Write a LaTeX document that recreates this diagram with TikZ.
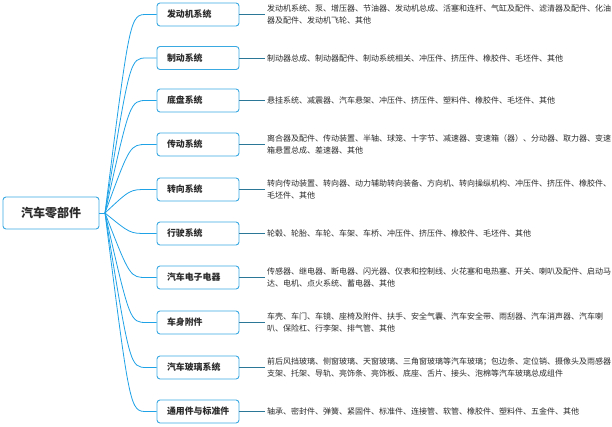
\documentclass[tikz,border=0pt]{standalone}
\usepackage{fontspec}
\setmainfont{Noto Sans CJK SC}
\definecolor{branch}{HTML}{1FA2E6}
\definecolor{boxline}{HTML}{3AA9E2}
\definecolor{leafline}{HTML}{2A7798}
\definecolor{txt}{HTML}{2B2B2B}
\tikzset{
  rootbox/.style={draw=boxline, line width=0.9pt, rounded corners=3pt, fill=white,
    minimum width=96pt, minimum height=32pt, inner sep=0pt,
    font=\fontsize{12}{14}\selectfont\bfseries, text=txt},
  catbox/.style={draw=boxline, line width=0.9pt, rounded corners=3pt, fill=white,
    minimum height=23pt, text width=62pt, align=left, inner xsep=10pt, inner ysep=0pt,
    font=\fontsize{8.9}{11}\selectfont\bfseries, text=txt},
  detail/.style={anchor=west, align=left, inner xsep=2pt, inner ysep=0pt,
    font=\fontsize{8}{12}\selectfont, text=txt},
  branchline/.style={draw=branch, line width=0.8pt},
  leafconn/.style={draw=leafline, line width=0.8pt}
}
\begin{document}
\begin{tikzpicture}[x=1pt,y=-1pt]
\useasboundingbox (0,0) rectangle (612,427);
\node[rootbox] (root) at (51,213) {汽车零部件};
\coordinate (hub) at (105,213);
\draw[branchline] (root.east) -- (hub);
\foreach \i/\cy/\name in {1/14.5/发动机系统, 2/58/制动系统, 3/100.5/底盘系统, 4/144.5/传动系统,
  5/189.5/转向系统, 6/233.5/行驶系统, 7/277.5/汽车电子电器, 8/322.5/车身附件,
  9/367.5/汽车玻璃系统, 10/411.5/通用件与标准件}{
  \node[catbox] (c\i) at (198,\cy) {\name};
  \coordinate (e\i) at (147,\cy);
  \draw[branchline] (hub) .. controls (130,\cy) .. (e\i) -- (c\i.west);
}
\node[detail] (d1) at (265,14.5) {发动机系统、泵、增压器、节油器、发动机总成、活塞和连杆、气缸及配件、滤清器及配件、化油\\器及配件、发动机飞轮、其他};
\node[detail] (d2) at (265,58) {制动器总成、制动器配件、制动系统相关、冲压件、挤压件、橡胶件、毛坯件、其他};
\node[detail] (d3) at (265,100.5) {悬挂系统、减震器、汽车悬架、冲压件、挤压件、塑料件、橡胶件、毛坯件、其他};
\node[detail] (d4) at (265,144.5) {离合器及配件、传动装置、半轴、球笼、十字节、减速器、变速箱（器）、分动器、取力器、变速\\箱悬置总成、差速器、其他};
\node[detail] (d5) at (265,189.5) {转向传动装置、转向器、动力辅助转向装备、方向机、转向操纵机构、冲压件、挤压件、橡胶件、\\毛坯件、其他};
\node[detail] (d6) at (265,233.5) {轮毂、轮胎、车轮、车架、车桥、冲压件、挤压件、橡胶件、毛坯件、其他};
\node[detail] (d7) at (265,277.5) {传感器、继电器、断电器、闪光器、仪表和控制线、火花塞和电热塞、开关、喇叭及配件、启动马\\达、电机、点火系统、蓄电器、其他};
\node[detail] (d8) at (265,322.5) {车壳、车门、车镜、座椅及附件、扶手、安全气囊、汽车安全带、雨刮器、汽车消声器、汽车喇\\叭、保险杠、行李架、排气管、其他};
\node[detail] (d9) at (265,367.5) {前后风挡玻璃、侧窗玻璃、天窗玻璃、三角窗玻璃等汽车玻璃；包边条、定位销、摄像头及雨感器\\支架、托架、导轨、亮饰条、亮饰板、底座、舌片、接头、泡棉等汽车玻璃总成组件};
\node[detail] (d10) at (265,411.5) {轴承、密封件、弹簧、紧固件、标准件、连接管、软管、橡胶件、塑料件、五金件、其他};
\foreach \i in {1,...,10}{
  \draw[leafconn] (c\i.east) -- (d\i.west);
}
\end{tikzpicture}
\end{document}
